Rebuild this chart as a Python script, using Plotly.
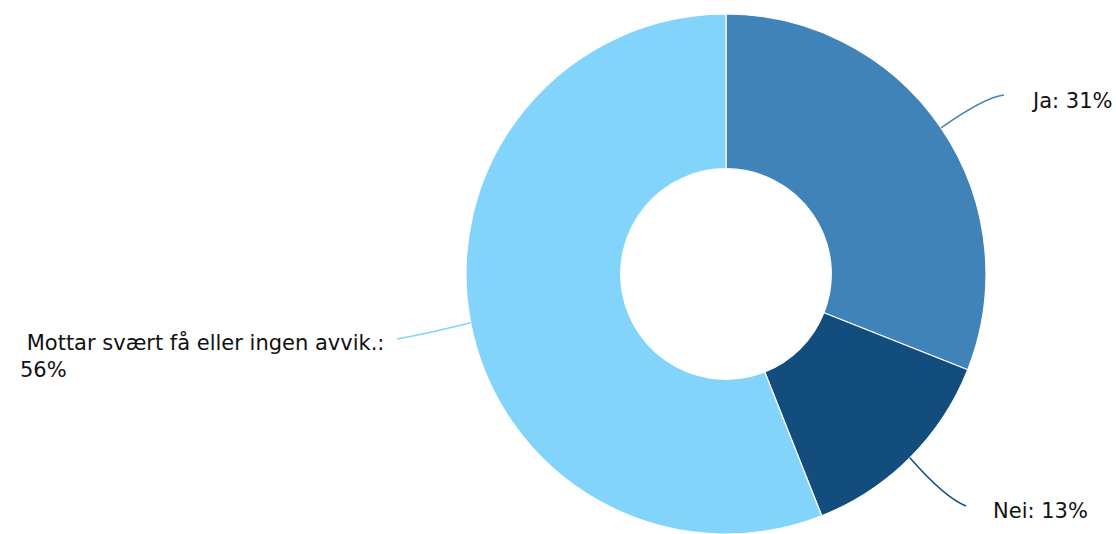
import math
import plotly.graph_objects as go

# Survey answers
labels = ["Ja", "Nei", "Mottar svært få eller ingen avvik."]
values = [31, 13, 56]
colors = ["#3f83b9", "#124d7e", "#83d4fa"]

W, H = 1116, 534
CX, CY, R = 726, 274, 260  # donut centre and outer radius in pixels

fig = go.Figure(go.Pie(
    labels=labels,
    values=values,
    sort=False,
    direction="clockwise",
    rotation=0,
    hole=0.405,
    marker=dict(colors=colors, line=dict(color="white", width=1.2)),
    textinfo="none",
    hoverinfo="label+percent",
    domain=dict(x=[(CX - R) / W, (CX + R) / W], y=[0, 2 * R / H]),
))


def px(x, y):
    return x / W, 1 - y / H


# Label placement (pixels): connector end, control point, text anchor
label_layout = [
    dict(end=(1004, 95), ctrl=(985, 97), text_at=(1029, 101), xanchor="left"),
    dict(end=(966, 506), ctrl=(945, 498), text_at=(991, 511), xanchor="left"),
    dict(end=(397, 339), ctrl=(430, 333), text_at=(386, 356), xanchor="right"),
]

total = sum(values)
cum = 0
shapes, annotations = [], []
for lab, val, col, lay in zip(labels, values, colors, label_layout):
    mid = (cum + val / 2) / total * 2 * math.pi
    cum += val
    sx = CX + R * math.sin(mid)
    sy = CY - R * math.cos(mid)
    ex, ey = lay["end"]
    qx, qy = lay["ctrl"]
    x0, y0 = px(sx, sy)
    x1, y1 = px(qx, qy)
    x2, y2 = px(ex, ey)
    shapes.append(dict(
        type="path", xref="paper", yref="paper",
        path=f"M {x0} {y0} Q {x1} {y1} {x2} {y2}",
        line=dict(color=col, width=1.5),
    ))
    pct = round(val / total * 100)
    if lay["xanchor"] == "right":
        text = f" {lab}:<br>{pct}%"
    else:
        text = f"{lab}: {pct}%"
    tx, ty = px(*lay["text_at"])
    annotations.append(dict(
        x=tx, y=ty, xref="paper", yref="paper", text=text, showarrow=False,
        xanchor=lay["xanchor"], yanchor="middle", align="left",
        font=dict(family="DejaVu Sans", size=21, color="#111111"),
    ))

fig.update_layout(
    width=W, height=H,
    margin=dict(l=0, r=0, t=0, b=0),
    paper_bgcolor="white",
    showlegend=False,
    shapes=shapes,
    annotations=annotations,
)

fig.write_html("out.html")
